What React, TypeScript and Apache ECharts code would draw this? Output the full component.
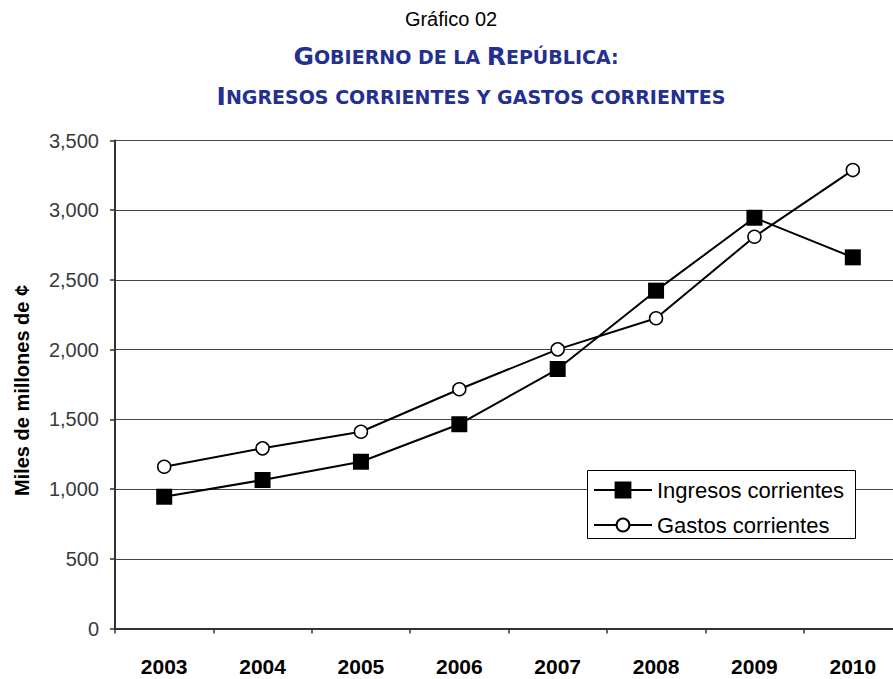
import React, { useEffect, useRef } from "react";
import * as echarts from "echarts";

const years = ["2003", "2004", "2005", "2006", "2007", "2008", "2009", "2010"];
const ingresos = [945, 1065, 1196, 1465, 1861, 2423, 2946, 2662];
const gastos = [1160, 1292, 1411, 1716, 2002, 2225, 2810, 3288];
const yTicks = { min: 0, max: 3500, interval: 500 };
const seriesNames = ["Ingresos corrientes", "Gastos corrientes"];

export default function App() {
  const ref = useRef<HTMLDivElement>(null);
  useEffect(() => {
    if (!ref.current) return;
    const chart = echarts.init(ref.current, null, { renderer: "svg" });
    const blue = "#23308f";
    const titleFont = "'DejaVu Sans', sans-serif";
    const arial = "Arial, 'Liberation Sans', sans-serif";
    const rich = {
      b: { fontFamily: titleFont, fontSize: 25, fontWeight: "bold", color: blue },
      s: { fontFamily: titleFont, fontSize: 19, fontWeight: "bold", color: blue },
    };
    const legendText = { fontFamily: arial, fontSize: 22, color: "#000" };
    chart.setOption({
      animation: false,
      backgroundColor: "#ffffff",
      title: [
        {
          text: "Gráfico 02",
          left: 446,
          textAlign: "center",
          top: 4,
          textStyle: { fontFamily: arial, fontSize: 20, fontWeight: "normal", color: "#000" },
        },
        {
          text: "{b|G}{s|OBIERNO DE LA }{b|R}{s|EPÚBLICA:}",
          left: 451,
          textAlign: "center",
          top: 39,
          textStyle: { rich },
        },
        {
          text: "{b|I}{s|NGRESOS CORRIENTES Y GASTOS CORRIENTES}",
          left: 466,
          textAlign: "center",
          top: 79,
          textStyle: { rich },
        },
      ],
      graphic: [
        {
          type: "rect",
          left: 587,
          top: 470,
          shape: { width: 268, height: 68 },
          style: { fill: "#fff", stroke: "#000", lineWidth: 1 },
          z: 3,
        },
      ],
      legend: [
        {
          orient: "vertical",
          left: 593,
          top: 479,
          itemWidth: 58,
          itemHeight: 21,
          padding: 0,
          textStyle: legendText,
          data: [seriesNames[0]],
          z: 6,
        },
        {
          orient: "vertical",
          left: 593,
          top: 514,
          itemWidth: 58,
          itemHeight: 16,
          padding: 0,
          textStyle: legendText,
          data: [seriesNames[1]],
          z: 6,
        },
      ],
      grid: { left: 115, right: 8, top: 140.5, bottom: 50.5, containLabel: false },
      xAxis: {
        type: "category",
        data: years,
        boundaryGap: true,
        axisLine: { show: true, lineStyle: { color: "#333", width: 2 } },
        axisTick: { show: true, length: 5, lineStyle: { color: "#333", width: 1.5 } },
        axisLabel: {
          margin: 27,
          fontFamily: arial,
          fontSize: 21,
          fontWeight: "bold",
          color: "#000",
        },
        splitLine: { show: false },
      },
      yAxis: {
        type: "value",
        min: yTicks.min,
        max: yTicks.max,
        interval: yTicks.interval,
        name: "Miles de millones de ¢",
        nameLocation: "middle",
        nameGap: 83,
        nameRotate: 90,
        nameTextStyle: {
          fontFamily: arial,
          fontSize: 20,
          fontWeight: "bold",
          color: "#000",
          padding: [0, 12, 0, 0],
        },
        axisLine: { show: true, lineStyle: { color: "#333", width: 2 } },
        axisTick: { show: true, length: 5, inside: false, lineStyle: { color: "#333", width: 1.5 } },
        axisLabel: {
          margin: 16,
          fontFamily: arial,
          fontSize: 20,
          color: "#3a3a3a",
          formatter: (v: number) => v.toLocaleString("en-US"),
        },
        splitLine: { show: true, lineStyle: { color: "#444", width: 1.2 } },
      },
      series: [
        {
          name: seriesNames[0],
          type: "line",
          data: ingresos,
          symbol: "rect",
          symbolSize: 16,
          lineStyle: { color: "#000", width: 2 },
          itemStyle: { color: "#000", borderColor: "#000", borderWidth: 0 },
          z: 3,
        },
        {
          name: seriesNames[1],
          type: "line",
          data: gastos,
          symbol: "circle",
          symbolSize: 13,
          showAllSymbol: true,
          lineStyle: { color: "#000", width: 2 },
          itemStyle: { color: "#fff", borderColor: "#000", borderWidth: 1.5 },
          z: 4,
        },
      ],
    });
    return () => chart.dispose();
  }, []);
  return (
    <div
      ref={ref}
      style={{ position: "fixed", left: 0, top: 0, width: 910, height: 679, background: "#fff" }}
    />
  );
}
